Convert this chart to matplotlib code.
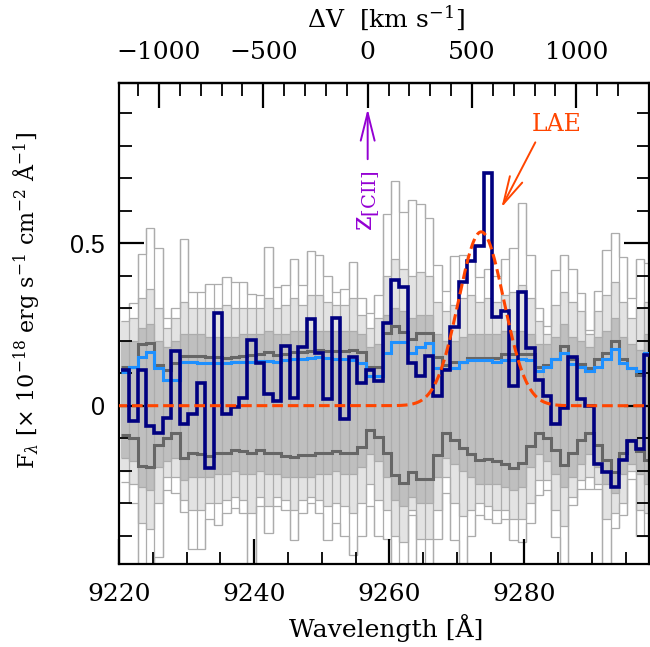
import matplotlib
matplotlib.use("Agg")
import matplotlib.pyplot as plt
import numpy as np

plt.rcParams['font.family'] = 'DejaVu Serif'
plt.rcParams['mathtext.fontset'] = 'dejavuserif'

# MUSE sampling, 1.25 A channels
wave_start = 9220.25
dwave = 1.25
nchan = 63
edges = wave_start + dwave * np.arange(nchan + 1)

# extracted spectrum at the LAE position
flux = [0.11, -0.047, 0.11, -0.063, -0.084, -0.037, 0.168, -0.057, -0.024, 0.07,
        -0.192, 0.284, -0.025, -0.005, 0.025, 0.202, 0.13, 0.035, 0.015, 0.184,
        0.023, 0.18, 0.266, 0.163, 0.02, 0.271, -0.04, 0.15, 0.07, 0.11,
        0.075, 0.256, 0.387, 0.366, 0.132, 0.09, 0.153, 0.03, 0.11, 0.243,
        0.38, 0.446, 0.491, 0.717, 0.274, 0.292, 0.06, 0.349, 0.179, 0.08,
        0.03, -0.055, -0.008, 0.149, 0.02, 0.0, -0.179, -0.205, -0.251, -0.167,
        -0.108, -0.134, 0.156]

# noise level from the error cube
sigma_err = [0.105, 0.12, 0.15, 0.166, 0.115, 0.08, 0.08, 0.133, 0.133, 0.132,
             0.132, 0.132, 0.132, 0.133, 0.135, 0.136, 0.137, 0.137, 0.136, 0.14,
             0.145, 0.145, 0.147, 0.15, 0.147, 0.145, 0.143, 0.14, 0.13, 0.09,
             0.09, 0.163, 0.197, 0.197, 0.161, 0.182, 0.194, 0.115, 0.112, 0.115,
             0.135, 0.14, 0.14, 0.142, 0.135, 0.142, 0.142, 0.143, 0.142, 0.108,
             0.12, 0.143, 0.161, 0.128, 0.12, 0.108, 0.12, 0.143, 0.173, 0.132,
             0.115, 0.108, 0.163]

# +/- 1 sigma of the random apertures
rand_hi = [0.12, 0.12, 0.19, 0.194, 0.125, 0.11, 0.13, 0.153, 0.153, 0.153,
           0.15, 0.15, 0.148, 0.15, 0.152, 0.155, 0.16, 0.165, 0.155, 0.16,
           0.165, 0.165, 0.168, 0.17, 0.168, 0.168, 0.168, 0.17, 0.165, 0.12,
           0.12, 0.223, 0.245, 0.228, 0.205, 0.223, 0.225, 0.15, 0.125, 0.135,
           0.135, 0.148, 0.148, 0.148, 0.148, 0.158, 0.158, 0.158, 0.158, 0.12,
           0.125, 0.145, 0.184, 0.143, 0.128, 0.115, 0.143, 0.163, 0.2, 0.143,
           0.115, 0.094, 0.16]
rand_lo = [-0.09, -0.1, -0.185, -0.188, -0.12, -0.1, -0.085, -0.16, -0.146, -0.15,
           -0.155, -0.147, -0.147, -0.137, -0.14, -0.147, -0.137, -0.145, -0.145, -0.155,
           -0.157, -0.152, -0.152, -0.147, -0.147, -0.139, -0.147, -0.147, -0.126, -0.075,
           -0.095, -0.147, -0.213, -0.239, -0.203, -0.224, -0.227, -0.153, -0.085, -0.106,
           -0.13, -0.15, -0.167, -0.165, -0.17, -0.18, -0.193, -0.177, -0.124, -0.083,
           -0.1, -0.137, -0.183, -0.147, -0.105, -0.083, -0.121, -0.167, -0.203, -0.145,
           -0.106, -0.139, -0.167]

# extremes of the random-aperture spectra per channel
aper_max = [0.30, 0.315, 0.466, 0.546, 0.484, 0.27, 0.30, 0.513, 0.35, 0.35,
            0.376, 0.376, 0.397, 0.38, 0.38, 0.345, 0.34, 0.487, 0.366, 0.37,
            0.453, 0.37, 0.477, 0.464, 0.40, 0.35, 0.36, 0.443, 0.33, 0.284,
            0.34, 0.589, 0.692, 0.597, 0.633, 0.62, 0.578, 0.433, 0.353, 0.46,
            0.464, 0.448, 0.395, 0.42, 0.40, 0.45, 0.484, 0.625, 0.464, 0.30,
            0.245, 0.417, 0.464, 0.42, 0.348, 0.233, 0.354, 0.479, 0.53, 0.458,
            0.33, 0.453, 0.44]
aper_min = [-0.234, -0.30, -0.60, -0.60, -0.465, -0.26, -0.27, -0.326, -0.44, -0.44,
            -0.35, -0.367, -0.33, -0.316, -0.33, -0.60, -0.31, -0.393, -0.31, -0.32,
            -0.413, -0.33, -0.30, -0.33, -0.413, -0.36, -0.40, -0.46, -0.40, -0.31,
            -0.40, -0.41, -0.60, -0.60, -0.336, -0.60, -0.60, -0.41, -0.27, -0.413,
            -0.60, -0.40, -0.336, -0.35, -0.362, -0.35, -0.413, -0.418, -0.362, -0.275,
            -0.26, -0.403, -0.60, -0.305, -0.255, -0.255, -0.255, -0.60, -0.377, -0.336,
            -0.224, -0.40, -0.40]
# where most of the random apertures still sit
aper_mid_hi = [0.26, 0.27, 0.33, 0.36, 0.3, 0.24, 0.27, 0.32, 0.3, 0.3,
               0.3, 0.3, 0.31, 0.3, 0.3, 0.3, 0.3, 0.33, 0.3, 0.31,
               0.33, 0.31, 0.34, 0.34, 0.32, 0.31, 0.31, 0.33, 0.28, 0.24,
               0.27, 0.4, 0.45, 0.42, 0.4, 0.41, 0.4, 0.32, 0.29, 0.31,
               0.33, 0.34, 0.32, 0.33, 0.32, 0.34, 0.35, 0.37, 0.33, 0.26,
               0.22, 0.31, 0.35, 0.32, 0.29, 0.22, 0.29, 0.34, 0.38, 0.32,
               0.27, 0.3, 0.32]
aper_mid_lo = [-0.2, -0.24, -0.36, -0.38, -0.3, -0.22, -0.22, -0.29, -0.32, -0.32,
               -0.3, -0.3, -0.29, -0.28, -0.29, -0.33, -0.28, -0.31, -0.28, -0.29,
               -0.32, -0.29, -0.28, -0.29, -0.31, -0.3, -0.31, -0.33, -0.3, -0.24,
               -0.29, -0.32, -0.4, -0.42, -0.32, -0.41, -0.41, -0.32, -0.22, -0.3,
               -0.34, -0.32, -0.3, -0.31, -0.32, -0.32, -0.35, -0.35, -0.3, -0.23,
               -0.23, -0.32, -0.37, -0.28, -0.23, -0.22, -0.24, -0.35, -0.33, -0.3,
               -0.2, -0.32, -0.33]
# dense bulk of the random apertures
aper_core_hi = [0.2, 0.2, 0.24, 0.25, 0.2, 0.18, 0.2, 0.22, 0.22, 0.22,
                0.21, 0.21, 0.21, 0.21, 0.22, 0.22, 0.22, 0.23, 0.22, 0.22,
                0.23, 0.23, 0.23, 0.23, 0.23, 0.23, 0.23, 0.23, 0.22, 0.18,
                0.19, 0.28, 0.3, 0.29, 0.27, 0.28, 0.28, 0.22, 0.2, 0.2,
                0.21, 0.22, 0.22, 0.22, 0.22, 0.23, 0.23, 0.23, 0.22, 0.19,
                0.19, 0.21, 0.25, 0.21, 0.2, 0.18, 0.21, 0.23, 0.27, 0.21,
                0.19, 0.17, 0.22]
aper_core_lo = [-0.16, -0.17, -0.25, -0.26, -0.19, -0.17, -0.16, -0.23, -0.22, -0.22,
                -0.22, -0.21, -0.21, -0.2, -0.21, -0.21, -0.2, -0.21, -0.21, -0.22,
                -0.22, -0.22, -0.22, -0.21, -0.21, -0.2, -0.21, -0.21, -0.19, -0.15,
                -0.17, -0.22, -0.29, -0.31, -0.28, -0.3, -0.3, -0.22, -0.16, -0.18,
                -0.2, -0.22, -0.24, -0.24, -0.24, -0.25, -0.26, -0.25, -0.19, -0.15,
                -0.17, -0.21, -0.25, -0.22, -0.18, -0.15, -0.19, -0.24, -0.27, -0.21,
                -0.18, -0.21, -0.24]

# Gaussian fit to the Lya line
fit_amp = 0.535
fit_cen = 9273.6
fit_sig = 3.35

# [CII] redshift reference wavelength for the velocity axis
wave_cii = 9256.8
c_kms = 299792.458

fig = plt.figure(figsize=(6.5, 6.47), dpi=100)
ax = fig.add_axes([0.1831, 0.1283, 0.815, 0.7434])

# random apertures: sparse outskirts, denser halo, solid core
ax.stairs(aper_mid_hi, edges, baseline=aper_mid_lo, fill=True, color='#e3e3e3', lw=0, zorder=1)
ax.stairs(aper_core_hi, edges, baseline=aper_core_lo, fill=True, color='#bfbfbf', lw=0, zorder=1.1)
gray = '#acacac'
for level in (aper_max, aper_min, aper_mid_hi, aper_mid_lo, aper_core_hi, aper_core_lo):
    ax.stairs(level, edges, baseline=None, color=gray, lw=0.9, zorder=1.2)
hi = np.array(aper_max)
lo = np.array(aper_min)
ax.vlines(edges[1:-1], np.minimum(lo[:-1], lo[1:]), np.maximum(hi[:-1], hi[1:]),
          color=gray, lw=0.9, zorder=1.2)

ax.stairs(rand_hi, edges, baseline=None, color='#666666', lw=2.2, zorder=2)
ax.stairs(rand_lo, edges, baseline=None, color='#666666', lw=2.2, zorder=2)
ax.stairs(sigma_err, edges, baseline=None, color='#1e90ff', lw=2.2, zorder=3)
ax.stairs(flux, edges, baseline=None, color='#000080', lw=2.6, zorder=4)

xx = np.linspace(9215, 9305, 900)
model = fit_amp * np.exp(-0.5 * ((xx - fit_cen) / fit_sig) ** 2)
ax.plot(xx, model, color='#ff4500', lw=2.2, dashes=(3.5, 1.6), zorder=5)

ax.set_xlim(9220, 9298.4)
ax.set_ylim(-0.487, 0.993)

ax.set_xticks([9220, 9240, 9260, 9280])
ax.set_xticks(np.arange(9225, 9300, 5), minor=True)
ax.set_yticks([0, 0.5])
ax.set_yticklabels(['0', '0.5'], family='Liberation Sans')
ax.set_yticks(np.arange(-0.4, 1.0, 0.1), minor=True)
ax.tick_params(which='both', direction='in', top=False, right=True, labelsize=18)
ax.tick_params(axis='x', which='both', pad=14)
ax.tick_params(axis='y', which='both', pad=10)
ax.tick_params(which='major', length=18, width=1.6)
ax.tick_params(which='minor', length=9, width=1.3)
for s in ax.spines.values():
    s.set_linewidth(1.6)


def to_vel(w):
    return c_kms * (w / wave_cii - 1.0)


def to_wave(v):
    return wave_cii * (1.0 + v / c_kms)


top = ax.secondary_xaxis('top', functions=(to_vel, to_wave))
top.set_xticks([-1000, -500, 0, 500, 1000])
top.set_xticklabels(['\u22121000', '\u2212500', '0', '500', '1000'])
top.set_xticks(np.arange(-1200, 1300, 100), minor=True)
top.tick_params(which='both', direction='in', labelsize=18, pad=14)
top.tick_params(which='major', length=18, width=1.6)
top.tick_params(which='minor', length=9, width=1.3)
top.spines['top'].set_linewidth(1.6)

ax.set_xlabel('Wavelength [\u00c5]', fontsize=18)
ax.xaxis.set_label_coords(0.505, -0.105)
ax.set_ylabel(r'F$_\lambda$ [$\times$ 10$^{-18}$ erg s$^{-1}$ cm$^{-2}$ $\mathrm{\AA}^{-1}$]',
              fontsize=16)
ax.yaxis.set_label_coords(-0.145, 0.549)
fig.text(386 / 650, 1 - 18 / 647, r'$\Delta$V  [km s$^{-1}$]', fontsize=18,
         ha='center', va='center')

# [CII] redshift marker
ax.annotate('', xy=(wave_cii, 0.922), xytext=(wave_cii, 0.75),
            arrowprops=dict(arrowstyle='->,head_length=1.0,head_width=0.25',
                            color='#9400d3', lw=1.4, mutation_scale=20), zorder=6)
ax.text(wave_cii, 0.63, r'z$_{\rm [CII]}$', rotation=90, color='#9400d3',
        fontsize=20, ha='center', va='center')

# LAE label
ax.annotate('', xy=(9276.4, 0.602), xytext=(9281.8, 0.818),
            arrowprops=dict(arrowstyle='->,head_length=1.0,head_width=0.25',
                            color='#ff4500', lw=1.4, mutation_scale=20), zorder=6)
ax.text(9284.8, 0.864, 'LAE', color='#ff4500', fontsize=17, ha='center', va='center')

fig.savefig('out.png', dpi=100)
